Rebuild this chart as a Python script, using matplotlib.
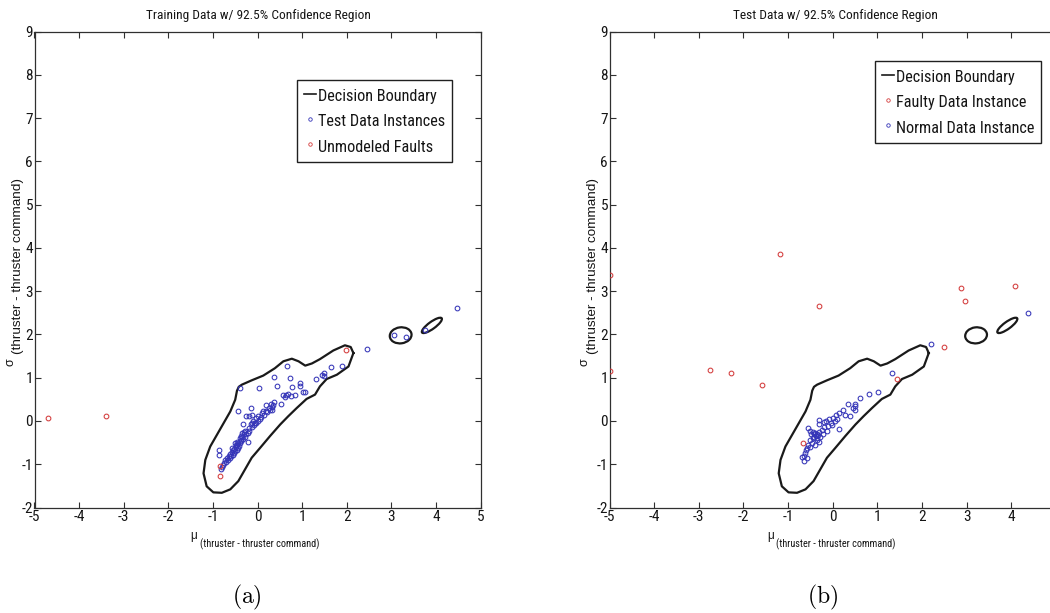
import os
import matplotlib
matplotlib.use("Agg")
import matplotlib.pyplot as plt
from matplotlib import font_manager as fm
from matplotlib.patches import Ellipse
from matplotlib.lines import Line2D

plt.rcParams["axes.unicode_minus"] = False


def find_condensed():
    """Return FontProperties for a narrow sans face, or None."""
    for fam in ["Liberation Sans Narrow", "Arial Narrow", "Roboto Condensed",
                "Open Sans Condensed", "Noto Sans Condensed"]:
        try:
            path = fm.findfont(fm.FontProperties(family=fam), fallback_to_default=False)
            return fm.FontProperties(fname=path)
        except Exception:
            pass
    for fam in ["Noto Sans", "Open Sans", "Roboto", "Liberation Sans"]:
        try:
            path = fm.findfont(fm.FontProperties(family=fam, stretch="condensed"),
                               fallback_to_default=False)
        except Exception:
            continue
        base = os.path.basename(path).lower()
        if "condensed" in base or "narrow" in base:
            return fm.FontProperties(fname=path)
    return None


def find_regular():
    for fam in ["Liberation Sans", "Arial", "DejaVu Sans"]:
        try:
            path = fm.findfont(fm.FontProperties(family=fam), fallback_to_default=False)
            return fm.FontProperties(fname=path)
        except Exception:
            pass
    return fm.FontProperties(family="DejaVu Sans")


REG_FP = find_regular()
COND_FP = find_condensed()
NARROW_FP = COND_FP if COND_FP is not None else REG_FP

# ---------------------------------------------------------------- data
# 92.5% decision boundary: main region (closed outline) and two islands
boundary_x = [2.15, 2.04, 1.78, 1.55, 1.40, 1.29, 1.10, 0.88, 0.69, 0.51,
              0.28, 0.06, -0.13, -0.28, -0.43, -0.61, -0.80, -0.99, -1.14,
              -1.21, -1.17, -1.06, -0.91, -0.76, -0.61, -0.50, -0.46, -0.42,
              -0.35, -0.13, 0.13, 0.39, 0.58, 0.77, 0.92, 1.07, 1.22, 1.40,
              1.70, 1.96, 2.09, 2.15]
boundary_y = [1.57, 1.26, 1.07, 0.97, 0.80, 0.61, 0.51, 0.30, 0.11, -0.08,
              -0.35, -0.62, -0.85, -1.12, -1.39, -1.58, -1.66, -1.65, -1.51,
              -1.21, -0.90, -0.59, -0.32, -0.05, 0.22, 0.49, 0.70, 0.79,
              0.84, 0.94, 1.05, 1.22, 1.38, 1.44, 1.38, 1.28, 1.33, 1.43,
              1.63, 1.75, 1.71, 1.57]
island_cx = [3.21, 3.91]
island_cy = [1.98, 2.21]
island_w = [0.49, 0.55]
island_h = [0.37, 0.16]
island_angle = [8, 37]

# (a) training data
train_x = [2.45, 1.90, 1.65, 1.49, 1.50, 1.44, 1.31, 0.66, 0.38, 0.72,
           0.43, 0.04, -0.39, 0.77, 0.95, 0.95, 1.03, 1.07, 0.58, 0.64,
           0.69, 0.76, 0.83, 0.53, 0.62, 3.05, 3.33, 3.76, 4.48, -0.43,
           -0.15, -0.25, -0.18, -0.12, -0.33, -0.22, -0.03,
           0.36, 0.35, 0.33, 0.30, 0.28, 0.25, 0.22, 0.18, 0.15, 0.10,
           0.08, 0.05, 0.02, 0.00, -0.03, -0.05, -0.08, -0.10, -0.13, -0.15,
           -0.18, -0.20, -0.22, -0.25, -0.27, -0.29, -0.31, -0.33, -0.35, -0.36,
           -0.38, -0.40, -0.41, -0.43, -0.44, -0.46, -0.47, -0.49, -0.50, -0.52,
           -0.53, -0.55, -0.56, -0.58, -0.59, -0.61, -0.62, -0.64, -0.66, -0.68,
           -0.70, -0.72, -0.74, -0.77, -0.80, -0.82, -0.87, -0.86, -0.40, -0.45,
           -0.30, -0.12, 0.12, 0.20, 0.32, -0.48, -0.38, -0.57, -0.35, -0.50]
train_y = [1.66, 1.28, 1.24, 1.12, 1.03, 1.07, 0.96, 1.26, 1.02, 0.99,
           0.82, 0.76, 0.76, 0.79, 0.88, 0.80, 0.67, 0.66, 0.61, 0.59,
           0.62, 0.58, 0.61, 0.40, 0.56, 1.98, 1.94, 2.10, 2.62, 0.22,
           0.30, 0.12, 0.12, 0.13, -0.08, -0.49, -0.04,
           0.45, 0.38, 0.32, 0.40, 0.26, 0.30, 0.20, 0.24, 0.14, 0.18,
           0.10, 0.05, 0.12, 0.00, 0.06, -0.05, -0.10, 0.00, -0.15, -0.08,
           -0.22, -0.17, -0.28, -0.30, -0.22, -0.36, -0.30, -0.42, -0.38, -0.47,
           -0.44, -0.52, -0.58, -0.50, -0.62, -0.56, -0.66, -0.60, -0.70, -0.64,
           -0.74, -0.68, -0.78, -0.72, -0.82, -0.76, -0.86, -0.80, -0.90, -0.85,
           -0.95, -0.90, -0.98, -1.02, -1.06, -1.12, -0.66, -0.78, -0.40, -0.48,
           -0.25, -0.05, 0.22, 0.36, 0.25, -0.55, -0.35, -0.62, -0.28, -0.50]
unmodeled_x = [-4.69, -3.39, -0.84, -0.84, 1.98]
unmodeled_y = [0.07, 0.12, -1.03, -1.28, 1.63]

# (b) test data
normal_x = [4.38, 2.19, 1.33, 1.02, 0.81, 0.60, 0.49, 0.49, 0.50, 0.34,
            0.39, 0.22, 0.15, 0.07, 0.00, 0.15, -0.09, -0.20, -0.30, -0.31,
            -0.15, -0.05, 0.05, -0.10, -0.20, -0.25, -0.30, -0.35, -0.38, -0.41,
            -0.43, -0.39, -0.45, -0.36, -0.33, -0.48, -0.50, -0.52, -0.56, -0.46,
            -0.30, -0.40, -0.55, -0.58, -0.60, -0.62, -0.65, -0.69, -0.64, -0.58,
            -0.52, -0.28, -0.22, -0.12, -0.02, 0.10, 0.28, 0.45, -0.44, -0.35]
normal_y = [2.49, 1.78, 1.12, 0.66, 0.63, 0.53, 0.39, 0.35, 0.25, 0.40,
            0.11, 0.26, 0.19, 0.13, 0.07, -0.18, 0.05, -0.02, -0.08, 0.02,
            0.00, -0.05, 0.00, -0.12, -0.15, -0.20, -0.25, -0.30, -0.35, -0.31,
            -0.36, -0.28, -0.40, -0.40, -0.33, -0.30, -0.45, -0.22, -0.16, -0.50,
            -0.49, -0.55, -0.55, -0.62, -0.68, -0.75, -0.80, -0.84, -0.93, -0.85,
            -0.60, -0.38, -0.30, -0.22, -0.10, 0.05, 0.15, 0.30, -0.25, -0.45]
faulty_x = [-4.98, -4.98, -2.74, -2.29, -1.58, -1.18, -0.31, -0.67, 1.45,
            2.49, 2.87, 2.97, 4.08]
faulty_y = [3.38, 1.15, 1.17, 1.10, 0.83, 3.87, 2.65, -0.50, 0.97,
            1.72, 3.07, 2.77, 3.11]

x_ticks = [-5, -4, -3, -2, -1, 0, 1, 2, 3, 4, 5]
y_ticks = [-2, -1, 0, 1, 2, 3, 4, 5, 6, 7, 8, 9]

titles = ["Training Data w/ 92.5% Confidence Region",
          "Test Data w/ 92.5% Confidence Region"]
legend_labels = [["Decision Boundary", "Test Data Instances", "Unmodeled Faults"],
                 ["Decision Boundary", "Faulty Data Instance", "Normal Data Instance"]]
axis_subscript = "(thruster - thruster command)"
captions = ["(a)", "(b)"]

# ---------------------------------------------------------------- figure
W, H = 1050, 613
fig = plt.figure(figsize=(W / 100, H / 100), dpi=100)
renderer = fig.canvas.get_renderer()

BLUE = "#3535b8"
RED = "#d43c3c"
EDGE = "#303030"
INK = "#151515"


def fp_sized(fp, size):
    p = fp.copy()
    p.set_size(size)
    return p


def size_for_width(fp, text, target_px, base=10.0):
    """Font size at which `text` spans `target_px` pixels horizontally."""
    t = fig.text(0, 0, text, fontproperties=fp_sized(fp, base))
    w = t.get_window_extent(renderer).width
    t.remove()
    return base * target_px / w


TITLE_FP = fp_sized(NARROW_FP, size_for_width(NARROW_FP, titles[0], 224))
LEGEND_SIZE = size_for_width(NARROW_FP, "Decision Boundary", 119)
LEGEND_FP = fp_sized(NARROW_FP, LEGEND_SIZE)
XSUB_FP = fp_sized(NARROW_FP, size_for_width(NARROW_FP, axis_subscript, 119))
YSUB_FP = fp_sized(REG_FP, size_for_width(REG_FP, axis_subscript, 176))
TICK_FP = fp_sized(NARROW_FP, 11 if COND_FP is not None else 9.5)


def fig_xy(px, py):
    return px / W, 1 - py / H


def make_axes(left_px, right_px, top_px=31.7, bottom_px=507.5):
    return fig.add_axes([left_px / W, 1 - bottom_px / H,
                         (right_px - left_px) / W, (bottom_px - top_px) / H])


def style_axes(ax):
    ax.set_xlim(-5, 5)
    ax.set_ylim(-2, 9)
    ax.set_xticks(x_ticks)
    ax.set_yticks(y_ticks)
    ax.tick_params(direction="in", length=4, width=0.8, top=True, right=True,
                   pad=1.0, colors=EDGE, labelcolor=INK)
    ax.tick_params(axis="x", pad=2.0)
    for lbl in ax.get_xticklabels() + ax.get_yticklabels():
        lbl.set_fontproperties(TICK_FP)
    for s in ax.spines.values():
        s.set_color(EDGE)
        s.set_linewidth(0.9)


def draw_boundary(ax):
    ax.plot(boundary_x, boundary_y, color="#1a1a1a", lw=1.6,
            solid_joinstyle="round", zorder=3)
    for cx, cy, w, h, a in zip(island_cx, island_cy, island_w, island_h, island_angle):
        ax.add_patch(Ellipse((cx, cy), w, h, angle=a, fill=False,
                             edgecolor="#1a1a1a", lw=1.6, zorder=3))


def scatter(ax, x, y, c):
    ax.plot(x, y, linestyle="none", marker="o", markersize=3.4,
            markerfacecolor="none", markeredgecolor=c, markeredgewidth=0.75,
            zorder=4)


def add_legend(ax, labels, colors, anchor_px):
    handles = [Line2D([], [], color="#1a1a1a", lw=1.2)]
    for c in colors:
        handles.append(Line2D([], [], linestyle="none", marker="o", markersize=2.5,
                              markerfacecolor="none", markeredgecolor=c,
                              markeredgewidth=0.6))
    s_px = LEGEND_SIZE * 100 / 72
    leg = ax.legend(handles, labels, loc="upper left",
                    bbox_to_anchor=fig_xy(*anchor_px), bbox_transform=fig.transFigure,
                    prop=LEGEND_FP, frameon=True, fancybox=False, framealpha=1,
                    edgecolor="#202020", handlelength=12.0 / s_px,
                    handleheight=21.0 / s_px, handletextpad=2.0 / s_px,
                    borderpad=7.0 / s_px, labelspacing=7.5 / s_px, borderaxespad=0)
    leg.get_frame().set_linewidth(1.0)
    for t in leg.get_texts():
        t.set_color(INK)


def add_labels(x_mu, x_sub, y_sig, y_sub_x):
    # x label: mu with a subscript
    fig.text(*fig_xy(x_mu, 536), "μ", fontproperties=fp_sized(REG_FP, 8.5),
             ha="center", va="center", color=INK)
    fig.text(*fig_xy(x_sub, 544), axis_subscript, fontproperties=XSUB_FP,
             ha="left", va="center", color=INK)
    # y label: sigma with a subscript, rotated
    fig.text(*fig_xy(y_sig, 362), "σ", fontproperties=fp_sized(REG_FP, 9),
             ha="center", va="center", rotation=90, color=INK)
    fig.text(*fig_xy(y_sub_x, 266), axis_subscript, fontproperties=YSUB_FP,
             ha="center", va="center", rotation=90, color=INK)


# (a)
ax1 = make_axes(34.5, 480.5)
style_axes(ax1)
draw_boundary(ax1)
scatter(ax1, train_x, train_y, BLUE)
scatter(ax1, unmodeled_x, unmodeled_y, RED)
add_legend(ax1, legend_labels[0], [BLUE, RED], (297, 80))
fig.text(*fig_xy(258, 15), titles[0], fontproperties=TITLE_FP, ha="center",
         va="center", color=INK)
add_labels(194, 200, 10, 18)
fig.text(*fig_xy(247, 597), r"$\mathrm{" + captions[0] + "}$", fontsize=17,
         ha="center", va="center", math_fontfamily="cm")

# (b)
ax2 = make_axes(609.5, 1056)
style_axes(ax2)
draw_boundary(ax2)
scatter(ax2, normal_x, normal_y, BLUE)
scatter(ax2, faulty_x, faulty_y, RED)
add_legend(ax2, legend_labels[1], [RED, BLUE], (875, 61))
fig.text(*fig_xy(835, 15), titles[1], fontproperties=TITLE_FP, ha="center",
         va="center", color=INK)
add_labels(771, 776, 585, 593)
fig.text(*fig_xy(823, 597), r"$\mathrm{" + captions[1] + "}$", fontsize=17,
         ha="center", va="center", math_fontfamily="cm")

fig.savefig("out.png", dpi=100, facecolor="white")
